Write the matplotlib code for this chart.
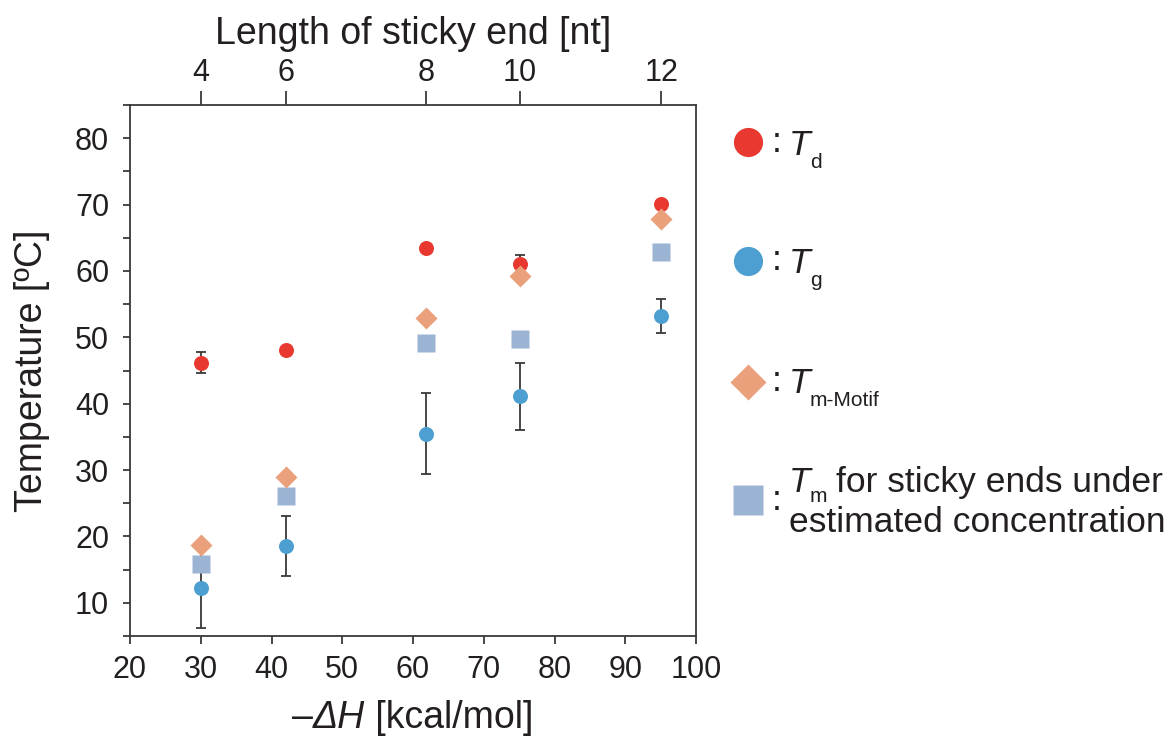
import matplotlib
matplotlib.use("Agg")
import matplotlib.pyplot as plt
from matplotlib.ticker import MultipleLocator
from matplotlib.offsetbox import TextArea, HPacker, AnnotationBbox

plt.rcParams['font.family'] = ['Liberation Sans', 'DejaVu Sans']

# ---- data ----
dH = [30.0, 42.1, 61.8, 75.1, 95.1]          # -ΔH [kcal/mol]
sticky_len = ["4", "6", "8", "10", "12"]      # length of sticky end [nt]
Td = [46.2, 48.1, 63.5, 61.1, 70.1]
Td_err = [1.6, 0.0, 0.0, 1.25, 0.0]
Tg = [12.2, 18.6, 35.5, 41.1, 53.2]
Tg_err = [5.95, 4.5, 6.05, 5.0, 2.55]
Tm_motif = [18.7, 29.0, 52.9, 59.2, 67.9]
Tm_est = [15.8, 26.1, 49.2, 49.7, 62.9]
x_ticks = [20, 30, 40, 50, 60, 70, 80, 90, 100]
y_ticks = [10, 20, 30, 40, 50, 60, 70, 80]

TXT = '#231f20'
SPINE = '#3b3838'
RED = '#e8382f'
BLUE = '#4d9fd1'
ORANGE = '#eba07c'
LBLUE = '#9cb4d3'

fig = plt.figure(figsize=(11.72, 7.42), dpi=100)
ax = fig.add_axes([130/1172, 1-636/742, (696-130)/1172, (636-105)/742])

# error bars (behind markers)
ax.errorbar(dH, Tg, yerr=Tg_err, fmt='none', ecolor=SPINE, elinewidth=1.3,
            capsize=3.3, capthick=1.3, zorder=1)
ax.errorbar(dH, Td, yerr=Td_err, fmt='none', ecolor=SPINE, elinewidth=1.3,
            capsize=3.3, capthick=1.3, zorder=1)

ax.plot(dH, Tg, 'o', color=BLUE, ms=10.8, mec='none', zorder=3)
ax.plot(dH, Tm_est, 's', color=LBLUE, ms=13.2, mec='none', zorder=4)
ax.plot(dH, Td, 'o', color=RED, ms=10.8, mec='none', zorder=5)
ax.plot(dH, Tm_motif, 'D', color=ORANGE, ms=11, mec='none', zorder=6)

ax.set_xlim(20, 100)
ax.set_ylim(5, 85)
ax.set_xticks(x_ticks)
ax.set_yticks(y_ticks)
ax.yaxis.set_minor_locator(MultipleLocator(5))

for s in ax.spines.values():
    s.set_color(SPINE)
    s.set_linewidth(1.3)

ax.tick_params(axis='x', which='major', direction='out', length=6, width=1.3,
               color=SPINE, labelsize=22, labelcolor=TXT, pad=8)
ax.tick_params(axis='y', which='both', direction='out', length=5, width=1.3,
               color=SPINE, labelsize=22, labelcolor=TXT, pad=10)
ax.tick_params(axis='y', which='minor', labelleft=False)

ax.set_ylabel('Temperature [ºC]', fontsize=27, color=TXT, labelpad=18)

# x label with italic ΔH
tp = dict(fontsize=27, color=TXT)
xl = HPacker(children=[TextArea('–', textprops=tp),
                       TextArea('ΔH', textprops=dict(tp, style='italic')),
                       TextArea(' [kcal/mol]', textprops=tp)],
             sep=0, pad=0, align='baseline')
ab = AnnotationBbox(xl, (0.5, 24), xycoords=('axes fraction', 'figure pixels'),
                    box_alignment=(0.5, 0.5), frameon=False, pad=0)
ax.add_artist(ab)

# top axis: length of sticky end
ax2 = ax.twiny()
ax2.set_xlim(ax.get_xlim())
ax2.set_xticks(dH)
ax2.set_xticklabels(sticky_len)
ax2.tick_params(axis='x', direction='out', length=10, width=1.3, color=SPINE,
                labelsize=22, labelcolor=TXT, pad=2)
for s in ax2.spines.values():
    s.set_visible(False)
ax2.set_xlabel('Length of sticky end [nt]', fontsize=27, color=TXT, labelpad=10)

# ---- legend (drawn in pixel space) ----
lax = fig.add_axes([0, 0, 1, 1], zorder=-1)
lax.set_xlim(0, 1172)
lax.set_ylim(742, 0)
lax.axis('off')

lx = 747.7
lax.plot(lx, 142, 'o', color=RED, ms=21, mec='none')
lax.plot(lx, 261, 'o', color=BLUE, ms=21, mec='none')
lax.plot(lx, 381.7, 'D', color=ORANGE, ms=18.8, mec='none')
lax.plot(lx, 500, 's', color=LBLUE, ms=21, mec='none')

FS = 25.5
SUB = 15
def entry(yb, sub, colon_y, dy=12.5):
    lax.text(777, colon_y, ':', fontsize=FS, color=TXT, ha='center', va='center')
    lax.text(789, yb, 'T', fontsize=FS, style='italic', color=TXT, ha='left', va='baseline')
    lax.text(810, yb + dy, sub, fontsize=SUB, color=TXT, ha='left', va='baseline')

entry(155, 'd', 142)
entry(273, 'g', 261)
entry(393.3, 'm-Motif', 381.7)
entry(491.7, 'm', 500, dy=10.5)
lax.text(836, 491.7, 'for sticky ends under', fontsize=FS, color=TXT,
         ha='left', va='baseline')
lax.text(789, 532.5, 'estimated concentration', fontsize=FS, color=TXT,
         ha='left', va='baseline')

fig.savefig('out.png', dpi=100, facecolor='white')
